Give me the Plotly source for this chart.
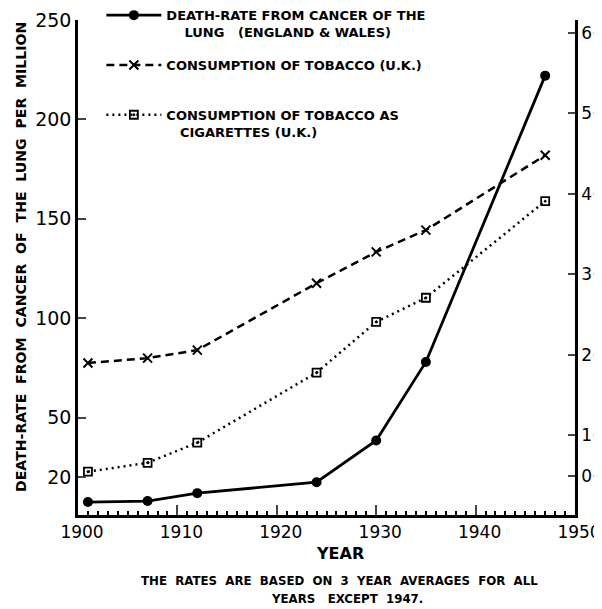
import plotly.graph_objects as go

years = [1901, 1907, 1912, 1924, 1930, 1935, 1947]
death_rate = [7.5, 8, 12, 17.5, 38.5, 78, 222]
tobacco = [1.90, 1.96, 2.06, 2.89, 3.28, 3.55, 4.48]
cigarettes = [0.55, 0.66, 0.91, 1.78, 2.41, 2.71, 3.91]

left_ticks = [20, 50, 100, 150, 200, 250]
right_ticks = [0.5, 1, 2, 3, 4, 5, 6]
right_labels = ["0·5", "1·0", "2·0", "3·0", "4·0", "5·0", "6·0"]
x_ticks = [1900, 1910, 1920, 1930, 1940, 1950]

NB = "\u00a0"
name1 = "DEATH-RATE FROM CANCER OF THE<br>" + NB * 4 + "LUNG" + NB * 3 + "(ENGLAND & WALES)"
name2 = "CONSUMPTION OF TOBACCO (U.K.)<br>" + NB
name3 = "CONSUMPTION OF TOBACCO AS<br>" + NB * 3 + "CIGARETTES (U.K.)"

fig = go.Figure()
fig.add_trace(go.Scatter(
    x=years, y=death_rate, name=name1, mode="lines+markers",
    line=dict(color="black", width=2.8),
    marker=dict(symbol="circle", size=10, color="black"),
    legendgroup="a", yaxis="y"))
fig.add_trace(go.Scatter(
    x=years, y=tobacco, name=name2, mode="lines+markers",
    line=dict(color="black", width=2.5, dash="8px,5px"),
    marker=dict(symbol="x-thin", size=9, line=dict(color="black", width=2)),
    legendgroup="b", yaxis="y2"))
fig.add_trace(go.Scatter(
    x=years, y=cigarettes, name=name3, mode="lines+markers",
    line=dict(color="black", width=2.5, dash="2px,4px"),
    marker=dict(symbol="square-open-dot", size=8, color="black", line=dict(width=1.8)),
    legendgroup="c", yaxis="y2"))

font = "DejaVu Sans"
# The page body has an 8px margin, so the figure is drawn 8px right and down.
fig.update_layout(
    width=586, height=601,
    margin=dict(l=70, r=19, t=12, b=94, autoexpand=False),
    paper_bgcolor="white", plot_bgcolor="white",
    font=dict(family=font, color="black"),
    showlegend=True,
    legend=dict(x=0.047, y=1.04, xanchor="left", yanchor="top",
                bgcolor="rgba(0,0,0,0)", font=dict(size=13, family=font, weight="bold"),
                itemwidth=55, traceorder="grouped", tracegroupgap=13, valign="top"),
    xaxis=dict(range=[1900, 1950], tickvals=x_ticks, ticks="inside", ticklen=10, tickwidth=2,
               showline=True, linewidth=2.5, linecolor="black", showgrid=False, zeroline=False,
               tickfont=dict(size=17, family=font), ticklabelshift=4, automargin=False,
               ticklabeloverflow="allow",
               minor=dict(dtick=1, ticks="inside", ticklen=4, tickwidth=1.5, tickcolor="black")),
    yaxis=dict(range=[1, 250], tickvals=left_ticks, ticks="inside", ticklen=8, tickwidth=2,
               showline=True, linewidth=2.5, linecolor="black", showgrid=False, zeroline=False,
               tickfont=dict(size=19, family=font), automargin=False),
    yaxis2=dict(range=[0.012, 6.16], overlaying="y", side="right", tickvals=right_ticks,
                ticktext=right_labels, ticks="inside", ticklen=7, tickwidth=2,
                showline=True, linewidth=2.5, linecolor="black", showgrid=False, zeroline=False,
                tickfont=dict(size=17, family=font), automargin=False,
                ticklabeloverflow="allow"),
)

def px_x(p):
    return (p - 78) / 497.0

def px_y(p):
    return (515 - p) / 495.0

annos = [
    dict(text="DEATH-RATE" + NB + " FROM" + NB + " CANCER" + NB + " OF" + NB + " THE" + NB + " LUNG" + NB + " PER" + NB + " MILLION",
         x=px_x(21), y=px_y(257), textangle=-90, font=dict(size=14.1, weight="bold")),
    dict(text="YEAR", x=px_x(340), y=px_y(553), font=dict(size=16, weight="bold")),
    dict(text="THE" + NB + " RATES" + NB + " ARE" + NB + " BASED" + NB + " ON" + NB + " 3" + NB + " YEAR" + NB + " AVERAGES" + NB + " FOR" + NB + " ALL",
         x=px_x(339), y=px_y(581), font=dict(size=11.8, weight="bold")),
    dict(text="YEARS" + NB * 2 + " EXCEPT" + NB + " 1947.", x=px_x(347), y=px_y(599),
         font=dict(size=11.8, weight="bold")),
]
for a in annos:
    a.update(xref="paper", yref="paper", showarrow=False, xanchor="center", yanchor="middle")
    fig.add_annotation(**a)

fig.write_html("out.html")
